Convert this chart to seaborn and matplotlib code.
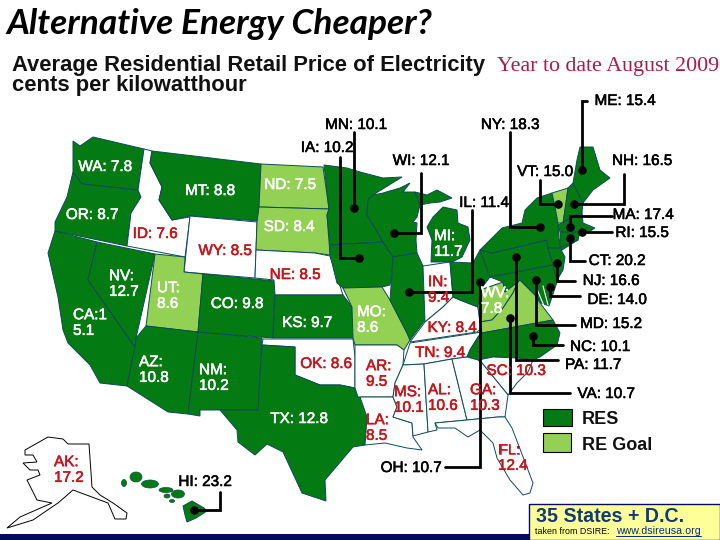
"""
Alternative Energy Cheaper? - residential electricity price per state, map with labels
All layout below is in pixels of the 720x540 slide (y pointing down).
"""
import pandas as pd
import matplotlib
matplotlib.use("Agg")
import matplotlib.pyplot as plt
import matplotlib.patheffects as pe
from matplotlib.patches import Ellipse, Rectangle
import seaborn as sns

# -------------------------------------------------------------
# DATA
# -------------------------------------------------------------
STATES = ["WA", "OR", "CA", "NV", "ID", "MT", "WY", "UT", "AZ", "CO", "NM", "ND", "SD", "NE", "KS",
          "OK", "TX", "MN", "IA", "MO", "AR", "LA", "WI", "IL", "MI", "IN", "KY", "TN", "MS", "AL",
          "OH", "WV", "VA", "NC", "SC", "GA", "FL", "PA", "NY", "VT", "NH", "ME", "MA", "RI", "CT",
          "NJ", "DE", "MD", "AK", "HI"]
PRICES = [7.8, 8.7, 15.1, 12.7, 7.6, 8.8, 8.5, 8.6, 10.8, 9.8, 10.2, 7.5, 8.4, 8.5, 9.7,
          8.6, 12.8, 10.1, 10.2, 8.6, 9.5, 8.5, 12.1, 11.4, 11.7, 9.4, 8.4, 9.4, 10.1, 10.6,
          10.7, 7.8, 10.7, 10.1, 10.3, 10.3, 12.4, 11.7, 18.3, 15.0, 16.5, 15.4, 17.4, 15.5, 20.2,
          16.6, 14.0, 15.2, 17.2, 23.2]
RES_STATES = ["WA", "OR", "CA", "NV", "MT", "AZ", "CO", "NM", "KS", "TX", "MN", "IA", "WI", "IL", "MI",
              "OH", "NC", "MD", "DE", "PA", "NJ", "NY", "NH", "ME", "MA", "RI", "CT", "HI"]
GOAL_STATES = ["UT", "ND", "SD", "MO", "WV", "VA", "VT"]
LEGEND_NAMES = ["RES", "RE Goal"]

# -------------------------------------------------------------
# BASE MAP + LAYOUT
# -------------------------------------------------------------
OUTLINES = {
    "WA": [(73,141),(80,146),(93,137),(144,149),(138,190),(82,184),(73,172)],
    "OR": [(73,172),(82,184),(138,190),(141,197),(131,213),(127,246),(55,231),(55,222),(67,197)],
    "CA": [(55,231),(97,242),(88,280),(135,347),(127,386),(100,383),(90,365),(68,343),(63,330),(58,297),(48,253)],
    "NV": [(97,242),(155,254),(136,338),(135,347),(88,280)],
    "ID": [(144,149),(152,151),(150,163),(162,187),(159,200),(172,220),(190,217),(185,257),(127,246),(131,213),(141,197),(138,190)],
    "MT": [(152,151),(261,164),(259,221),(190,216),(172,220),(159,200),(162,187),(150,163)],
    "WY": [(190,216),(257,222),(255,278),(184,272)],
    "UT": [(155,254),(185,257),(184,272),(203,274),(198,332),(146,326)],
    "AZ": [(146,326),(198,332),(197,340),(188,414),(168,412),(127,386),(135,347),(136,338)],
    "CO": [(203,274),(275,281),(273,338),(198,332)],
    "NM": [(198,332),(262,338),(258,410),(200,410),(200,416),(188,414)],
    "ND": [(261,164),(323,167),(329,209),(259,207)],
    "SD": [(259,207),(329,209),(327,215),(330,255),(315,253),(256,250),(257,222)],
    "NE": [(256,250),(315,253),(330,256),(343,295),(275,295),(274,280),(255,278)],
    "KS": [(275,295),(343,295),(352,307),(353,338),(273,338)],
    "OK": [(263,339),(353,339),(355,357),(355,388),(340,385),(320,385),(295,375),(295,347),(262,345)],
    "TX": [(262,345),(295,347),(295,375),(320,385),(340,385),(355,388),(360,390),(367,417),(365,445),(353,447),
           (325,480),(326,501),(302,493),(283,452),(267,444),(255,455),(238,442),(237,430),(220,410),(258,410)],
    "MN": [(324,165),(347,168),(360,172),(383,178),(402,177),(373,195),(368,200),(367,215),(375,228),(383,242),
           (330,245),(327,215),(329,209)],
    "IA": [(330,245),(383,242),(393,257),(392,273),(390,285),(382,287),(343,288),(337,283),(330,255)],
    "MO": [(343,288),(382,287),(390,300),(407,333),(410,340),(404,350),(397,345),(355,345),(353,338),(352,307)],
    "AR": [(355,345),(397,345),(404,350),(403,365),(395,383),(393,397),(358,397),(355,388)],
    "LA": [(360,397),(393,397),(397,407),(393,417),(412,423),(413,437),(422,450),(407,448),(385,443),(365,445),(367,417)],
    "WI": [(368,200),(373,195),(383,193),(400,188),(410,183),(403,192),(415,192),(420,205),(417,217),(413,222),
           (417,223),(416,240),(417,253),(393,257),(383,242),(375,228),(367,215)],
    "MI": [(433,217),(443,207),(457,210),(458,223),(468,227),(470,240),(462,257),(452,262),(431,262),(432,240),(427,227)],
    "MI2": [(415,192),(427,195),(437,190),(452,198),(440,202),(430,203),(420,205)],
    "IL": [(393,257),(417,253),(423,266),(425,320),(410,340),(407,333),(390,300),(392,273)],
    "IN": [(423,266),(450,262),(453,297),(443,307),(425,322)],
    "KY": [(410,342),(425,322),(443,307),(453,297),(460,300),(478,307),(480,322),(482,328),(477,332)],
    "TN": [(410,343),(482,332),(478,337),(470,350),(467,357),(452,359),(424,364),(403,365)],
    "MS": [(403,365),(424,364),(428,432),(413,436),(412,423),(393,417),(397,407),(393,397),(395,383)],
    "AL": [(424,364),(452,359),(467,420),(435,423),(437,430),(428,432)],
    "OH": [(450,262),(473,263),(480,250),(492,253),(490,277),(480,290),(478,307),(460,300),(453,297)],
    "WV": [(480,290),(503,282),(505,292),(515,284),(518,282),(513,293),(503,308),(492,320),(480,322),(478,307)],
    "VA": [(482,333),(553,320),(540,303),(535,295),(520,280),(518,282),(513,293),(503,308),(492,320),(480,322)],
    "NC": [(467,357),(470,350),(478,337),(482,333),(553,320),(560,333),(557,345),(540,357),(533,360),(517,358),(493,357),(478,360)],
    "SC": [(478,360),(493,357),(517,358),(533,360),(528,372),(517,383),(508,395),(482,363)],
    "GA": [(452,359),(467,357),(478,360),(482,363),(508,395),(505,417),(498,417),(467,420)],
    "FL": [(435,423),(467,420),(498,417),(505,417),(512,428),(533,483),(530,493),(523,495),(510,480),(497,458),
           (493,443),(480,430),(468,437),(455,428),(438,428)],
    "PA": [(480,250),(492,253),(547,240),(548,248),(553,265),(490,277)],
    "NY": [(480,250),(502,228),(522,223),(525,210),(537,198),(552,193),(555,207),(558,223),(559,240),(578,240),(562,250),
           (548,248),(547,240),(492,253)],
    "VT": [(552,193),(568,188),(565,210),(563,223),(558,223),(555,207)],
    "NH": [(568,188),(573,183),(583,203),(582,212),(563,223),(565,210)],
    "ME": [(573,183),(577,160),(580,147),(593,147),(600,170),(610,178),(593,190),(583,203)],
    "MA": [(558,225),(582,212),(583,223),(595,228),(587,233),(560,232)],
    "RI": [(573,232),(580,232),(578,240),(573,242)],
    "CT": [(560,232),(573,232),(573,242),(560,247)],
    "NJ": [(548,248),(560,248),(565,257),(563,270),(556,282),(553,265)],
    "MD": [(490,277),(553,265),(557,282),(549,306),(541,303),(535,295),(520,280),(515,284),(505,292),(503,282)],
    "AK": [(25,450),(48,437),(63,439),(68,444),(89,444),(92,487),(100,495),(113,503),(127,513),(126,519),(115,519),
           (108,503),(73,490),(58,503),(52,507),(33,520),(7,528),(20,517),(52,503),(37,500),(27,480),(40,475),
           (38,470),(30,470),(23,463),(37,462),(33,455),(25,455)],
    "HI": [(183,506),(192,501),(204,508),(207,511),(196,518),(187,522),(185,515)],
}
HI_ISLANDS = [(136,477,12,10),(124,483,5,7),(150,484,17,8),(166,490,14,5),(167,496,6,4),
              (178,494,13,8),(172,501,5,3)]
BAY_LINES = [[(537,289),(544,306)], [(543,286),(548,305)]]

# label anchor: (x, y, align, wrapped on two lines)
LABELS_BLACK = {
    "MN": (356,124,"center",False), "IA": (327,147,"center",False), "WI": (421,160,"center",False),
    "NY": (510,124,"center",False), "IL": (484,202,"center",False), "VT": (545,171,"center",False),
    "NH": (642,160,"center",False), "ME": (625,100,"center",False), "MA": (643,214,"center",False),
    "RI": (642,232,"center",False), "CT": (617,260,"center",False), "NJ": (611,280,"center",False),
    "DE": (617,299,"center",False), "MD": (611,323,"center",False), "NC": (600,346,"center",False),
    "PA": (593,364,"center",False), "VA": (606,393,"center",False), "OH": (411,467,"center",False),
    "HI": (205,481,"center",False),
}
LABELS_WHITE = {
    "WA": (105,166,"center",False), "MT": (210,190,"center",False), "ND": (290,184,"center",False),
    "OR": (92,214,"center",False), "SD": (289,226,"center",False), "NV": (109,283,"left",True),
    "UT": (157,295,"left",True), "CA": (73,322,"left",True), "CO": (237,303,"center",False),
    "KS": (307,322,"center",False), "AZ": (139,369,"left",True), "NM": (199,377,"left",True),
    "TX": (299,418,"center",False), "MI": (434,243,"left",True), "WV": (481,300,"left",True),
    "MO": (357,319,"left",True),
}
LABELS_RED = {
    "ID": (155,233,"center",False), "WY": (225,250,"center",False), "NE": (295,274,"center",False),
    "OK": (326,363,"center",False), "IN": (428,289,"left",True), "KY": (452,327,"center",False),
    "TN": (440,352,"center",False), "AR": (366,373,"left",True), "MS": (394,399,"left",True),
    "AL": (428,397,"left",True), "GA": (470,397,"left",True), "SC": (516,370,"center",False),
    "LA": (366,427,"left",True), "FL": (498,457,"left",True), "AK": (54,469,"left",True),
}

LEADERS = {
    "MN": [(354,132),(354,208)],
    "IA": [(340,157),(340,258),(359,258)],
    "WI": [(421,173),(421,233),(394,233)],
    "NY": [(510,132),(510,227),(540,227)],
    "IL": [(472,210),(472,292),(409,292)],
    "VT": [(540,180),(540,204),(558,204)],
    "NH": [(624,174),(624,204),(574,204)],
    "ME": [(587,101),(582,101),(582,170)],
    "MA": [(612,216),(570,216),(570,227)],
    "RI": [(612,232),(582,232)],
    "CT": [(585,261),(570,261),(570,238)],
    "NJ": [(575,281),(557,281),(557,263)],
    "DE": [(580,296),(550,296),(550,287)],
    "MD": [(575,325),(536,325),(536,280)],
    "NC": [(563,345),(533,345),(533,336)],
    "PA": [(558,360),(516,360),(516,257)],
    "VA": [(570,393),(510,393),(510,318)],
    "OH": [(445,467),(480,467),(480,282)],
    "HI": [(220,492),(220,510),(194,510)],
}

DARK_GREEN = "#047a12"
LIGHT_GREEN = "#93d154"
BORDER = "#0d4a5a"
RED = "#c4161c"
NAVY = "#000b5c"
SERIF_RED = "#b0174b"

sns.set_style("white")
plt.rcParams["font.family"] = ["Liberation Sans", "DejaVu Sans"]

price_by_state = dict(zip(STATES, PRICES))


def fill_of(state):
    if state in RES_STATES:
        return DARK_GREEN
    if state in GOAL_STATES:
        return LIGHT_GREEN
    return "white"


def price_label(state, wrapped):
    value = f"{price_by_state[state]:.1f}"
    if state == "CA":  # broken across the lines this way on the slide
        return f"CA:{value[0]}\n{value[1:]}"
    return f"{state}:\n{value}" if wrapped else f"{state}: {value}"


# -------------------------------------------------------------
# DRAW
# -------------------------------------------------------------
fig = plt.figure(figsize=(7.2, 5.4), dpi=100)
ax = fig.add_axes([0, 0, 1, 1])

for name, pts in OUTLINES.items():
    state = name[:2]
    xs, ys = zip(*pts)
    edge = "black" if state == "AK" else BORDER
    ax.fill(xs, ys, facecolor=fill_of(state), edgecolor=edge, lw=0.7, zorder=2)

for x, y, w, h in HI_ISLANDS:
    ax.add_patch(Ellipse((x, y), w, h, facecolor=fill_of("HI"), edgecolor=BORDER, lw=0.5, zorder=2))

for pts in BAY_LINES:
    xs, ys = zip(*pts)
    ax.plot(xs, ys, color="white", lw=0.8, zorder=2.5)

# leader lines and their end dots
for state, pts in LEADERS.items():
    xs, ys = zip(*pts)
    ax.plot(xs, ys, color="black", lw=2, solid_joinstyle="miter", zorder=3)
dots = pd.DataFrame([pts[-1] for pts in LEADERS.values()], columns=["x", "y"])
sns.scatterplot(data=dots, x="x", y="y", color="black", s=38, linewidth=0, ax=ax, zorder=4, legend=False)
ax.set_xlim(0, 720)
ax.set_ylim(540, 0)
ax.axis("off")

for table, colour in ((LABELS_BLACK, "black"), (LABELS_WHITE, "white"), (LABELS_RED, RED)):
    for state, (x, y, align, wrapped) in table.items():
        ax.text(x, y + 1, price_label(state, wrapped), color=colour, fontsize=11, ha=align, va="center",
                linespacing=1.15, zorder=5,
                path_effects=[pe.withStroke(linewidth=0.4, foreground=colour)])

# titles
ax.text(6, 24, "Alternative Energy Cheaper?", family="Lato", style="italic", weight="bold",
        fontsize=25.4, color="black", va="center", ha="left")
ax.text(12, 66, "Average Residential Retail Price of Electricity", weight="bold", fontsize=15.8,
        va="center", ha="left", color="#111111")
ax.text(12, 86, "cents per kilowatthour", weight="bold", fontsize=15.8, va="center", ha="left", color="#111111")
ax.text(497, 66, "Year to date August 2009", family="Liberation Serif", fontsize=15.8, color=SERIF_RED,
        va="center", ha="left")

# legend
ax.add_patch(Rectangle((543, 409), 29, 17, facecolor=DARK_GREEN, edgecolor="black", lw=0.8, zorder=3))
ax.add_patch(Rectangle((543, 433), 28, 19, facecolor=LIGHT_GREEN, edgecolor="black", lw=0.8, zorder=3))
ax.text(582, 420, LEGEND_NAMES[0], weight="bold", fontsize=13, va="center", ha="left", color="#111111")
ax.text(582, 446, LEGEND_NAMES[1], weight="bold", fontsize=13, va="center", ha="left", color="#111111")

# footer
ax.add_patch(Rectangle((0, 534), 530, 6, facecolor=NAVY, edgecolor="none", zorder=3))
ax.add_patch(Rectangle((529, 504), 191, 36, facecolor="#ffff99", edgecolor=NAVY, lw=1, zorder=3))
ax.text(536, 517, "35 States + D.C.", weight="bold", fontsize=14.1, color="#123a7a", va="center", ha="left", zorder=4)
ax.text(535, 531, "taken from DSIRE:", fontsize=6.4, color="black", va="center", ha="left", zorder=4)
ax.text(616, 531, "www.dsireusa.org", fontsize=7.7, color="#0a2a80", va="center", ha="left", zorder=4)
ax.plot([616, 701], [536, 536], color="#0a2a80", lw=0.7, zorder=4)

fig.savefig("out.png", dpi=100)
plt.close(fig)
